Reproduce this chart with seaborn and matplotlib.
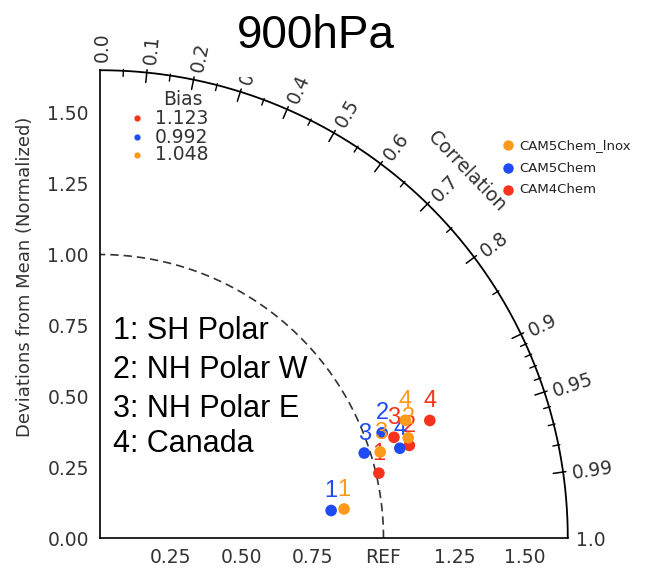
import numpy as np
import pandas as pd
import matplotlib
matplotlib.use("Agg")
import matplotlib.pyplot as plt
import seaborn as sns
from matplotlib.patches import Rectangle

# ---------------- data ----------------
models = ["CAM5Chem_lnox", "CAM5Chem", "CAM4Chem"]
model_colors = ["#fd9a1c", "#1f4bf7", "#f7321d"]
region_ids = ["1", "2", "3", "4"]
region_names = ["1: SH Polar", "2: NH Polar W", "3: NH Polar E", "4: Canada"]

ratio_lnox = [0.867, 1.143, 1.034, 1.154]
corr_lnox = [0.993, 0.951, 0.956, 0.933]
ratio_cam5 = [0.821, 1.062, 0.979, 1.104]
corr_cam5 = [0.993, 0.937, 0.952, 0.958]
ratio_cam4 = [1.010, 1.139, 1.096, 1.235]
corr_cam4 = [0.974, 0.958, 0.946, 0.942]

bias_values = ["1.123", "0.992", "1.048"]
bias_colors = ["#f7321d", "#1f4bf7", "#fd9a1c"]

x_ticks = [0.25, 0.50, 0.75, 1.00, 1.25, 1.50]
x_ticklabels = ["0.25", "0.50", "0.75", "REF", "1.25", "1.50"]
y_ticks = [0.00, 0.25, 0.50, 0.75, 1.00, 1.25, 1.50]
y_ticklabels = ["0.00", "0.25", "0.50", "0.75", "1.00", "1.25", "1.50"]
corr_major = [0.0, 0.1, 0.2, 0.3, 0.4, 0.5, 0.6, 0.7, 0.8, 0.9, 0.95, 0.99, 1.0]
corr_major_labels = ["0.0", "0.1", "0.2", "0.3", "0.4", "0.5", "0.6", "0.7",
                     "0.8", "0.9", "0.95", "0.99", "1.0"]
corr_minor = [0.05, 0.15, 0.25, 0.35, 0.45, 0.55, 0.65, 0.75, 0.85,
              0.91, 0.92, 0.93, 0.94, 0.96, 0.97, 0.98]
RMAX = 1.65

# ---------------- build table ----------------
rows = []
for m, ratios, corrs in zip(models, [ratio_lnox, ratio_cam5, ratio_cam4],
                            [corr_lnox, corr_cam5, corr_cam4]):
    for rid, r, c in zip(region_ids, ratios, corrs):
        th = np.arccos(c)
        rows.append(dict(model=m, region=rid, ratio=r, corr=c,
                         x=r * np.cos(th), y=r * np.sin(th)))
df = pd.DataFrame(rows)
palette = dict(zip(models, model_colors))

# ---------------- figure ----------------
sns.set_style("white")
plt.rcParams["font.family"] = ["DejaVu Sans"]
W, H = 650, 573
fig = plt.figure(figsize=(W / 100, H / 100), dpi=100)
ox, oy, sc = 100, 538, 283.5
ax = fig.add_axes([ox / W, (H - oy) / H, RMAX * sc / W, RMAX * sc / H])
ax.set_xlim(0, RMAX)
ax.set_ylim(0, RMAX)
for s in ["top", "right"]:
    ax.spines[s].set_visible(False)
for s in ["left", "bottom"]:
    ax.spines[s].set_color("black")
    ax.spines[s].set_linewidth(1.2)

tick_col = "#333333"
ax.set_xticks(x_ticks)
ax.set_xticklabels(x_ticklabels)
ax.set_yticks(y_ticks)
ax.set_yticklabels(y_ticklabels)
ax.tick_params(axis="both", direction="in", length=7.5, width=1.1,
               colors="black", labelcolor=tick_col, labelsize=13.5)
ax.tick_params(axis="x", pad=7)
ax.tick_params(axis="y", pad=8)

# outer arc
th = np.linspace(0, np.pi / 2, 300)
ax.plot(RMAX * np.cos(th), RMAX * np.sin(th), color="black", lw=1.3, clip_on=False)
# REF arc
ax.plot(np.cos(th), np.sin(th), color="#333333", lw=1.2,
        linestyle=(0, (5, 3)), clip_on=False)

# correlation ticks
for c in corr_major[1:-1]:
    t = np.arccos(c)
    ax.plot([1.615 * np.cos(t), 1.66 * np.cos(t)],
            [1.615 * np.sin(t), 1.66 * np.sin(t)], color="black", lw=1.1, clip_on=False)
for c in corr_minor:
    t = np.arccos(c)
    ax.plot([1.63 * np.cos(t), 1.655 * np.cos(t)],
            [1.63 * np.sin(t), 1.655 * np.sin(t)], color="black", lw=1.0, clip_on=False)
for c, lab in zip(corr_major, corr_major_labels):
    t = np.arccos(c)
    rr = 1.68
    off = 0.008
    px = rr * np.cos(t) + off * np.sin(t)
    py = rr * np.sin(t) - off * np.cos(t)
    ax.text(px, py, lab, rotation=np.degrees(t), rotation_mode="anchor",
            ha="left", va="center", fontsize=13.5, color=tick_col, clip_on=False)

ax.text(1.2945, 1.2945, "Correlation", rotation=-46, rotation_mode="anchor",
        ha="center", va="center", fontsize=13.5, color=tick_col)

# points: drawn CAM4Chem first, then CAM5Chem, then CAM5Chem_lnox on top
draw_order = ["CAM4Chem", "CAM5Chem", "CAM5Chem_lnox"]
for k, m in enumerate(draw_order):
    sub = df[df["model"] == m]
    sns.scatterplot(data=sub, x="x", y="y", color=palette[m], s=70,
                    edgecolor="none", legend=False, ax=ax,
                    zorder=5 + 2 * k, clip_on=False)
    for _, r in sub.iterrows():
        ax.annotate(r["region"], (r["x"], r["y"]), xytext=(0, 14),
                    textcoords="offset points", ha="center", va="center",
                    fontsize=17, color=palette[m],
                    family=["Liberation Sans"], zorder=6 + 2 * k)
ax.set_xlabel("")
ax.set_ylabel("")

# bias legend
ax.text(0.293, 1.545, "Bias", ha="center", va="center", fontsize=13.5, color=tick_col)
for yv, val, col in zip([1.481, 1.414, 1.351], bias_values, bias_colors):
    ax.plot(0.131, yv, "o", ms=4.5, color=col, mec="none")
    ax.text(0.194, yv, val, ha="left", va="center", fontsize=13.5, color=tick_col)

# model legend
for yv, m, col in zip([1.386, 1.305, 1.228], models, model_colors):
    ax.plot(1.439, yv, "o", ms=7.5, color=col, mec="none", clip_on=False)
    ax.text(1.478, yv, m, ha="left", va="center", fontsize=9.5, color="#222222",
            clip_on=False)

# region legend
for yv, name in zip([0.702, 0.564, 0.427, 0.303], region_names):
    ax.text(0.045, yv, name, ha="left", va="baseline", fontsize=22,
            family=["Liberation Sans"], color="black")

# y label
fig.text(25 / W, 1 - 277 / H, "Deviations from Mean (Normalized)", rotation=90,
         ha="center", va="center", fontsize=13, color=tick_col)

# title with white backing
fig.add_artist(Rectangle((228 / W, 1 - 77 / H), (402 - 228) / W, 77 / H,
                         transform=fig.transFigure, facecolor="white",
                         edgecolor="none", zorder=10))
fig.text(315.5 / W, 1 - 48 / H, "900hPa", ha="center", va="baseline",
         fontsize=33, family=["Liberation Sans"], color="black", zorder=11)

fig.savefig("out.png", dpi=100)
